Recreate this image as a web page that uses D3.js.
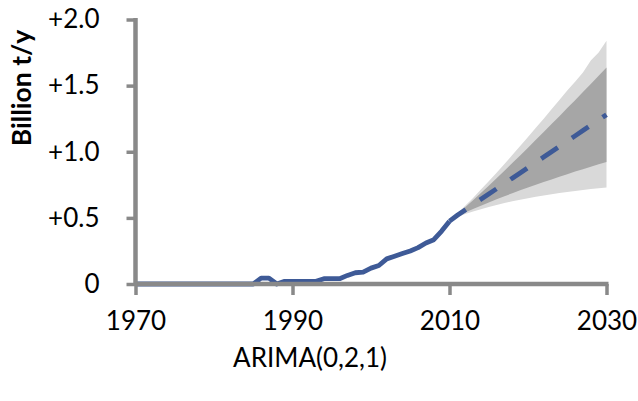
<!DOCTYPE html>
<html>
<head>
<meta charset="utf-8">
<script src="https://cdn.jsdelivr.net/npm/d3@7"></script>
<style>
  html, body { margin: 0; padding: 0; background: #fff; }
  svg { display: block; }
  text { font-family: Lato, "Open Sans", sans-serif; fill: #000; }
</style>
</head>
<body>
<svg id="chart" width="638" height="401"></svg>
<script>
// Historical annual increase (billion t/y), 1970–2010
const histYears = d3.range(1970, 2011);
const histValues = [
  0, 0, 0, 0, 0, 0, 0, 0, 0, 0,            // 1970–1979
  0, 0, 0, 0, 0, 0, 0.045, 0.045, 0, 0.02,  // 1980–1989
  0.02, 0.02, 0.02, 0.02, 0.04, 0.04, 0.04, 0.065, 0.085, 0.09, // 1990–1999
  0.12, 0.14, 0.19, 0.21, 0.23, 0.25, 0.275, 0.31, 0.335, 0.40, // 2000–2009
  0.475                                      // 2010
];

// ARIMA(0,2,1) forecast, 2010–2030
const fcYears = d3.range(2010, 2031);
const fcMean = [0.475, 0.52, 0.56, 0.60, 0.64, 0.68, 0.72, 0.76, 0.80, 0.84, 0.88,
                0.92, 0.96, 1.00, 1.04, 1.08, 1.12, 1.16, 1.20, 1.24, 1.28];
const fcUpper95 = [0.475, 0.533, 0.591, 0.651, 0.714, 0.777, 0.842, 0.908, 0.975, 1.043, 1.111,
                   1.181, 1.250, 1.321, 1.392, 1.464, 1.530, 1.600, 1.690, 1.750, 1.840];
const fcLower95 = [0.475, 0.507, 0.529, 0.549, 0.566, 0.583, 0.598, 0.612, 0.625, 0.637, 0.649,
                   0.659, 0.670, 0.679, 0.688, 0.696, 0.704, 0.711, 0.718, 0.724, 0.730];
const fcUpper80 = [0.475, 0.528, 0.580, 0.633, 0.688, 0.743, 0.799, 0.856, 0.914, 0.972, 1.030,
                   1.090, 1.149, 1.209, 1.269, 1.330, 1.390, 1.452, 1.513, 1.575, 1.638];
const fcLower80 = [0.475, 0.512, 0.540, 0.567, 0.592, 0.617, 0.641, 0.664, 0.686, 0.708, 0.730,
                   0.750, 0.771, 0.791, 0.811, 0.830, 0.850, 0.868, 0.887, 0.905, 0.922];

const xTicks = [1970, 1990, 2010, 2030];
const yTicks = [0, 0.5, 1.0, 1.5, 2.0];
const yTickLabels = ["0", "+0.5", "+1.0", "+1.5", "+2.0"];
const yTitle = "Billion t/y";
const xTitle = "ARIMA(0,2,1)";

const svg = d3.select("#chart");
const x = d3.scaleLinear().domain([1970, 2030]).range([135.5, 606.5]);
const y = d3.scaleLinear().domain([0, 2]).range([284, 19.5]);

const AXIS = "#898989";
const LINE = "#3e5a97";
const FONT = 26;

// Prediction bands (95% light, 80% dark)
const area = (lo, hi) => d3.area()
  .x((d, i) => x(fcYears[i]))
  .y0((d, i) => y(lo[i]))
  .y1((d, i) => y(hi[i]));

svg.append("path")
  .attr("d", area(fcLower95, fcUpper95)(fcYears))
  .attr("fill", "#d9d9d9");
svg.append("path")
  .attr("d", area(fcLower80, fcUpper80)(fcYears))
  .attr("fill", "#a6a6a6");

// Historical series
const line = d3.line().x(d => x(d[0])).y(d => y(d[1]));
svg.append("path")
  .attr("d", line(histYears.map((yr, i) => [yr, histValues[i]])))
  .attr("fill", "none").attr("stroke", LINE).attr("stroke-width", 4.8)
  .attr("stroke-linejoin", "round");

// Forecast mean
svg.append("path")
  .attr("d", line(fcYears.map((yr, i) => [yr, fcMean[i]])))
  .attr("fill", "none").attr("stroke", LINE).attr("stroke-width", 4.8)
  .attr("stroke-dasharray", "20,17");

// Axes
const xAxis = d3.axisBottom(x).tickValues(xTicks).tickSize(11).tickSizeOuter(0).tickPadding(17)
  .tickFormat(d3.format("d"));
const gx = svg.append("g").attr("transform", `translate(0,${y(0)})`).call(xAxis);

const yAxis = d3.axisLeft(y).tickValues(yTicks).tickSize(9).tickSizeOuter(0).tickPadding(27)
  .tickFormat((d, i) => yTickLabels[i]);
const gy = svg.append("g").attr("transform", `translate(${x(1970)},0)`).call(yAxis);

[gx, gy].forEach(g => {
  g.select(".domain").attr("stroke", AXIS).attr("stroke-width", 4.5);
  g.selectAll(".tick line").attr("stroke", AXIS).attr("stroke-width", 3.5);
  g.selectAll(".tick text").attr("font-size", FONT).attr("fill", "#000")
    .style("font-family", "Lato, 'Open Sans', sans-serif");
});
gx.select(".domain").attr("d", `M${x(1970)},0H${x(2030) + 2}`);
gy.select(".domain").attr("d", `M0,${y(2) - 1.5}V${y(0) + 2}`);

// Titles
svg.append("text")
  .attr("transform", `translate(31,88) rotate(-90)`)
  .attr("text-anchor", "middle")
  .attr("font-size", FONT + 0.5).attr("font-weight", "bold")
  .text(yTitle);

svg.append("text")
  .attr("x", 310).attr("y", 367)
  .attr("text-anchor", "middle")
  .attr("font-size", FONT)
  .text(xTitle);
</script>
</body>
</html>
